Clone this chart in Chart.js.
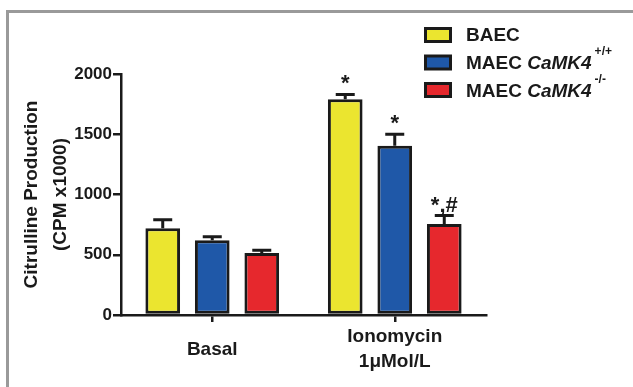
<!DOCTYPE html>
<html><head><meta charset="utf-8">
<script src="https://cdn.jsdelivr.net/npm/chart.js@4.4.0/dist/chart.umd.min.js"></script>
<style>
html,body{margin:0;padding:0;background:#fff;}
#wrap{position:relative;width:633px;height:387px;overflow:hidden;background:#fff;}
#frame{position:absolute;left:6px;top:10px;width:700px;height:500px;border-top:3px solid #9a9a9a;border-left:3px solid #9a9a9a;}
canvas{position:absolute;left:0;top:0;}
</style></head><body>
<div id="wrap"><div id="frame"></div><canvas id="c" width="633" height="387"></canvas></div>
<script>
// ---- data ----
const categories = ["Basal", ["Ionomycin", "1\u03bcMol/L"]];
const yTicks = [0, 500, 1000, 1500, 2000];
const seriesNames = ["BAEC", "MAEC CaMK4+/+", "MAEC CaMK4-/-"];
const legendMain = ["BAEC", "MAEC ", "MAEC "];
const legendItalic = ["", "CaMK4", "CaMK4"];
const legendSup = ["", "+/+", "-/-"];
const baecMean = [720, 1790];
const baecErr = [70, 40];
const wtMean = [620, 1405];
const wtErr = [30, 95];
const koMean = [515, 755];
const koErr = [22, 70];
const baecSig = ["", "*"];
const wtSig = ["", "*"];
const koSig = ["", "*,#"];
const yTitle = ["Citrulline Production", "(CPM x1000)"];

// ---- styles ----
const FONT = '"Liberation Sans", Arial, Helvetica, sans-serif';
const colors = ["#ebe52f", "#1f58a8", "#e6282d"];
const INK = "#1a1a1a";

const means = [baecMean, wtMean, koMean];
const errs = [baecErr, wtErr, koErr];
const sigs = [baecSig, wtSig, koSig];

const datasets = seriesNames.map((n, i) => ({
  label: n,
  data: means[i],
  errors: errs[i],
  sig: sigs[i],
  backgroundColor: colors[i],
  borderColor: INK,
  borderWidth: 3,
  borderSkipped: false,
  categoryPercentage: 0.814,
  barPercentage: 0.70
}));

const errorBarPlugin = {
  id: 'errbars',
  afterDatasetsDraw(chart) {
    const ctx = chart.ctx, y = chart.scales.y;
    chart.data.datasets.forEach((ds, i) => {
      const meta = chart.getDatasetMeta(i);
      meta.data.forEach((bar, j) => {
        const top = y.getPixelForValue(ds.data[j] + ds.errors[j]);
        ctx.save();
        ctx.strokeStyle = INK; ctx.lineWidth = 3;
        ctx.beginPath();
        ctx.moveTo(bar.x, bar.y); ctx.lineTo(bar.x, top);
        ctx.moveTo(bar.x - 9.5, top); ctx.lineTo(bar.x + 9.5, top);
        ctx.stroke();
        if (ds.sig[j]) {
          ctx.fillStyle = INK;
          ctx.font = 'bold 22px ' + FONT;
          ctx.textAlign = 'center';
          ctx.textBaseline = 'alphabetic';
          ctx.fillText(ds.sig[j], bar.x, top - 4);
        }
        ctx.restore();
      });
    });
  }
};

const legendPlugin = {
  id: 'customLegend',
  afterDraw(chart) {
    const ctx = chart.ctx;
    ctx.save();
    for (let i = 0; i < seriesNames.length; i++) {
      const bx = 424, by = 27 + i * 27.5;
      ctx.fillStyle = colors[i];
      ctx.fillRect(bx + 1.5, by + 1.5, 25, 13);
      ctx.strokeStyle = INK; ctx.lineWidth = 3;
      ctx.strokeRect(bx + 1.5, by + 1.5, 25, 13);
      const base = 41 + i * 28;
      let x = 466;
      ctx.fillStyle = INK;
      ctx.textBaseline = 'alphabetic';
      ctx.textAlign = 'left';
      ctx.font = 'bold 19px ' + FONT;
      ctx.fillText(legendMain[i], x, base);
      x += ctx.measureText(legendMain[i]).width;
      if (legendItalic[i]) {
        ctx.font = 'italic bold 19px ' + FONT;
        ctx.fillText(legendItalic[i], x, base);
        x += ctx.measureText(legendItalic[i]).width + 3;
      }
      if (legendSup[i]) {
        ctx.font = 'bold 12px ' + FONT;
        ctx.fillText(legendSup[i], x, base - 14);
      }
    }
    ctx.restore();
  }
};

new Chart(document.getElementById('c'), {
  type: 'bar',
  data: { labels: categories, datasets },
  options: {
    responsive: false,
    animation: false,
    devicePixelRatio: 1,
    layout: { padding: { left: 0, right: 147, top: 74, bottom: 0 } },
    plugins: { legend: { display: false }, tooltip: { enabled: false } },
    scales: {
      x: {
        offset: true,
        grid: { display: true, offset: false, drawOnChartArea: false, drawTicks: true, tickLength: 7, color: INK, lineWidth: 2.5 },
        border: { display: true, color: INK, width: 2.5 },
        ticks: { font: { family: FONT, weight: 'bold', size: 19, lineHeight: 1.3 }, color: INK, padding: 15, crossAlign: 'center', maxRotation: 0, autoSkip: false },
        afterFit(s) { s.height = 72; }
      },
      y: {
        min: 0, max: 2000,
        afterBuildTicks(s) { s.ticks = yTicks.map(v => ({ value: v })); },
        ticks: { font: { family: FONT, weight: 'bold', size: 17 }, color: INK, padding: 1, callback: v => String(v) },
        grid: { drawOnChartArea: false, tickLength: 8, color: INK, lineWidth: 2.5 },
        border: { display: true, color: INK, width: 2.5 },
        title: { display: true, text: yTitle, color: INK, font: { family: FONT, weight: 'bold', size: 19, lineHeight: 1.5 }, padding: { top: 18, bottom: 0 } },
        afterFit(s) { s.width = 121; }
      }
    }
  },
  plugins: [errorBarPlugin, legendPlugin]
});
</script>
</body></html>
